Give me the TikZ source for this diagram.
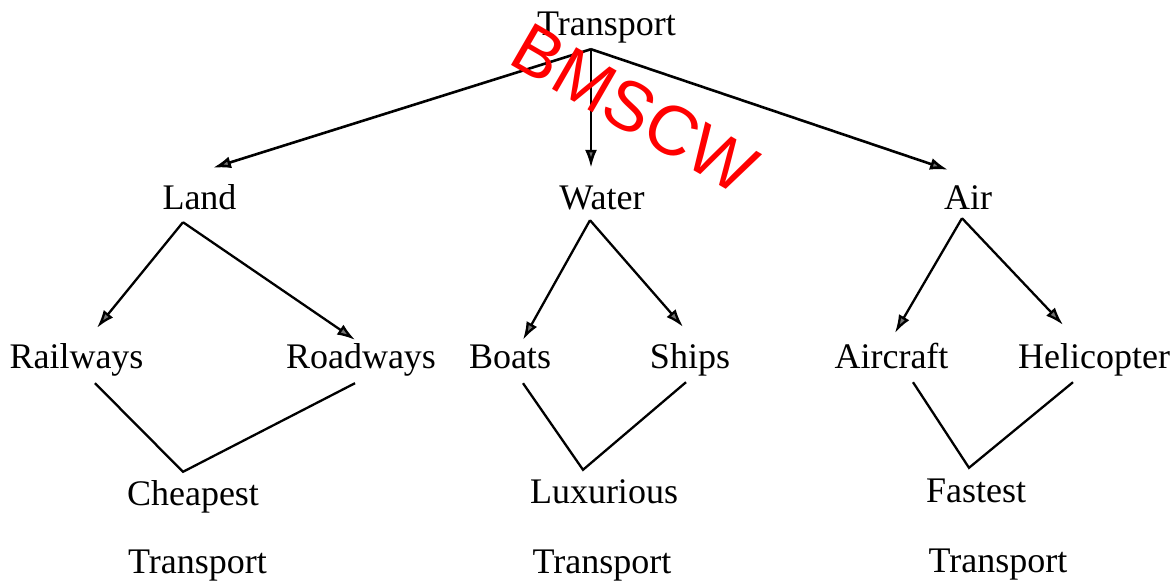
\documentclass[tikz,border=0pt]{standalone}
\usepackage{fontspec}
\setmainfont{Liberation Serif}
\newfontfamily\wmfont{Liberation Sans}
\usetikzlibrary{arrows.meta,calc}
\tikzset{
  lbl/.style={anchor=base,inner sep=0pt,text height=26pt,text depth=8pt,
    font=\fontsize{36}{40}\selectfont},
  toparr/.style={line width=2.6pt,-{Latex[length=18pt,width=12pt,fill=black!55]}},
  arr/.style={line width=2.3pt,-{Latex[length=18pt,width=12pt,fill=black!55]}},
  vline/.style={line width=2.3pt,line join=miter},
  watermark/.style={text=red,font=\wmfont\fontsize{70}{74}\selectfont,rotate=-30,inner sep=0pt}
}
\begin{document}
\begin{tikzpicture}[x=1pt,y=-1pt]
\useasboundingbox[fill=white] (0,0) rectangle (1171,582);
% level 0
\node[lbl] (top) at (606.5,35) {Transport};
% level 1
\node[lbl] (land) at (199.5,209) {Land};
\node[lbl] (water) at (602,209) {Water};
\node[lbl] (air) at (968,209) {Air};
% level 2
\node[lbl] (rail) at (76.5,368) {Railways};
\node[lbl] (road) at (361,368) {Roadways};
\node[lbl] (boats) at (510,368) {Boats};
\node[lbl] (ships) at (690,368) {Ships};
\node[lbl] (aircraft) at (891.5,368) {Aircraft};
\node[lbl] (heli) at (1094,368) {Helicopter};
% level 3
\node[lbl] (cheap) at (193,505) {Cheapest};
\node[lbl] (cheapT) at (197.5,573) {Transport};
\node[lbl] (lux) at (604,503) {Luxurious};
\node[lbl] (luxT) at (602,573) {Transport};
\node[lbl] (fast) at (976,502) {Fastest};
\node[lbl] (fastT) at (998,572) {Transport};
% top-level arrows
\coordinate (apex) at ($(top.south)+(-15.5,6)$);
\draw[toparr] (apex) -- ($(land.north)+(13.5,-15)$);
\draw[toparr] (apex) -- ($(water.north)+(-11,-15)$);
\draw[toparr] (apex) -- ($(air.north)+(-20,-13)$);
% second-level arrows
\draw[arr] ($(land.south)+(-16.5,5)$) -- ($(rail.north)+(20.5,-14)$);
\draw[arr] ($(land.south)+(-16.5,5)$) -- ($(road.north)+(-6,-2)$);
\draw[arr] ($(water.south)+(-12,3)$) -- ($(boats.north)+(13,-2)$);
\draw[arr] ($(water.south)+(-12,3)$) -- ($(ships.north)+(-7,-15)$);
\draw[arr] ($(air.south)+(-6,1)$) -- ($(aircraft.north)+(3.5,-9)$);
\draw[arr] ($(air.south)+(-6,1)$) -- ($(heli.north)+(-31,-17)$);
% V connectors
\draw[vline] ($(rail.south)+(18.5,7)$) -- ($(cheap.north)+(-10,-7)$) -- ($(road.south)+(-6,7)$);
\draw[vline] ($(boats.south)+(13,7)$) -- ($(lux.north)+(-21,-7)$) -- ($(ships.south)+(-4,6)$);
\draw[vline] ($(aircraft.south)+(21.5,6)$) -- ($(fast.north)+(-7,-8)$) -- ($(heli.south)+(-21,6)$);
% watermark
\node[watermark] (wm) at (635,109) {BMSCW};
\end{tikzpicture}
\end{document}
